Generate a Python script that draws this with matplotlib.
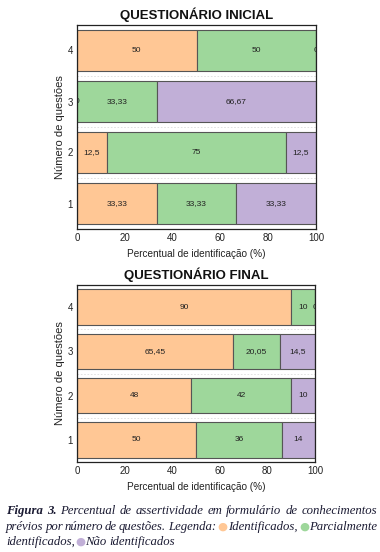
import matplotlib
matplotlib.use("Agg")
import matplotlib.pyplot as plt

# ---- data ----
questions = [1, 2, 3, 4]
ticks_x = [0, 20, 40, 60, 80, 100]
series_names = ["Identificados", "Parcialmente identificados", "Não identificados"]
colors = ["#FFC795", "#9ED79B", "#C1AFD7"]

ini_ident = [33.33, 12.5, 0, 50]
ini_parc = [33.33, 75, 33.33, 50]
ini_nao = [33.33, 12.5, 66.67, 0]

fin_ident = [50, 48, 65.45, 90]
fin_parc = [36, 42, 20.05, 10]
fin_nao = [14, 10, 14.5, 0]

title_ini = "QUESTIONÁRIO INICIAL"
title_fin = "QUESTIONÁRIO FINAL"
xlabel = "Percentual de identificação (%)"
ylabel = "Número de questões"

plt.rcParams["font.family"] = ["Liberation Sans", "DejaVu Sans"]

W, H = 380, 552
fig = plt.figure(figsize=(W / 100, H / 100), dpi=100)
fig.patch.set_facecolor("white")


def fmt(v):
    s = f"{v:.2f}".rstrip("0").rstrip(".")
    return s.replace(".", ",")


def draw(ax, series, title):
    left = [0] * len(questions)
    for vals, c in zip(series, colors):
        ax.barh(questions, vals, left=left, height=0.8, color=c,
                edgecolor="#555555", linewidth=0.8, zorder=2)
        for q, l, v in zip(questions, left, vals):
            ax.text(l + v / 2, q, fmt(v), ha="center", va="center",
                    fontsize=6, color="#222222", clip_on=True, zorder=4)
        left = [a + b for a, b in zip(left, vals)]
    for yy in [1.5, 2.5, 3.5]:
        ax.axhline(yy, color="#dddddd", lw=0.6, ls=(0, (2, 2)), zorder=1)
    ax.set_xlim(0, 100)
    ax.set_ylim(0.5, 4.5)
    ax.set_xticks(ticks_x)
    ax.set_yticks(questions)
    ax.tick_params(axis="both", labelsize=7, length=0, pad=3, colors="#222222")
    for s in ax.spines.values():
        s.set_color("#222222")
        s.set_linewidth(0.9)
    ax.set_xlabel(xlabel, fontsize=7.2, color="#222222", labelpad=4)
    ax.set_ylabel(ylabel, fontsize=8, color="#222222", labelpad=2)
    ax.set_title(title, fontsize=9.5, fontweight="bold", pad=4, color="#111111")


ax1 = fig.add_axes([77 / W, 1 - 229 / H, 239 / W, 204 / H])
draw(ax1, [ini_ident, ini_parc, ini_nao], title_ini)
ax2 = fig.add_axes([77 / W, 1 - 462 / H, 238 / W, 177 / H])
draw(ax2, [fin_ident, fin_parc, fin_nao], title_fin)

# ---- caption (justified) ----
cap_color = "#1b1b33"
serif = "Liberation Serif"
fs = 9.2
renderer = fig.canvas.get_renderer()

caption_lines = [
    ([[("Figura", "bold", None)], [("3.", "bold", None)], [("Percentual", None, None)],
      [("de", None, None)], [("assertividade", None, None)], [("em", None, None)],
      [("formulário", None, None)], [("de", None, None)], [("conhecimentos", None, None)]], True),
    ([[("prévios", None, None)], [("por", None, None)], [("número", None, None)],
      [("de", None, None)], [("questões.", None, None)], [("Legenda:", None, None)],
      [("●", None, colors[0]), ("Identificados,", None, None)],
      [("●", None, colors[1]), ("Parcialmente", None, None)]], True),
    ([[("identificados,", None, None), ("●", None, colors[2]), ("Não", None, None)],
      [("identificados", None, None)]], False),
]

x0, x1 = 6 / W, 377 / W
ys = [511, 527, 542]


def make_run(x, y, txt, weight, col):
    if col is not None:
        t = fig.text(x, y, txt, fontsize=fs * 0.9, color=col, family="DejaVu Sans",
                     ha="left", va="baseline")
    else:
        t = fig.text(x, y, txt, fontsize=fs, color=cap_color, family=serif,
                     style="italic", weight=weight or "normal", ha="left", va="baseline")
    return t


def width_of(t):
    bb = t.get_window_extent(renderer=renderer)
    return bb.width / W


for (words, justify), ypx in zip(caption_lines, ys):
    y = 1 - (ypx + 3) / H
    widths = []
    for w in words:
        tot = 0
        for txt, wt, col in w:
            t = make_run(0, 0, txt, wt, col)
            tot += width_of(t)
            t.remove()
        widths.append(tot)
    space_t = make_run(0, 0, "a a", None, None)
    aa = make_run(0, 0, "aa", None, None)
    sp = width_of(space_t) - width_of(aa)
    space_t.remove(); aa.remove()
    if justify and len(words) > 1:
        gap = (x1 - x0 - sum(widths)) / (len(words) - 1)
    else:
        gap = sp
    x = x0
    for w, wd in zip(words, widths):
        xx = x
        for txt, wt, col in w:
            t = make_run(xx, y, txt, wt, col)
            xx += width_of(t)
        x += wd + gap

fig.savefig("out.png", dpi=100, facecolor="white")
